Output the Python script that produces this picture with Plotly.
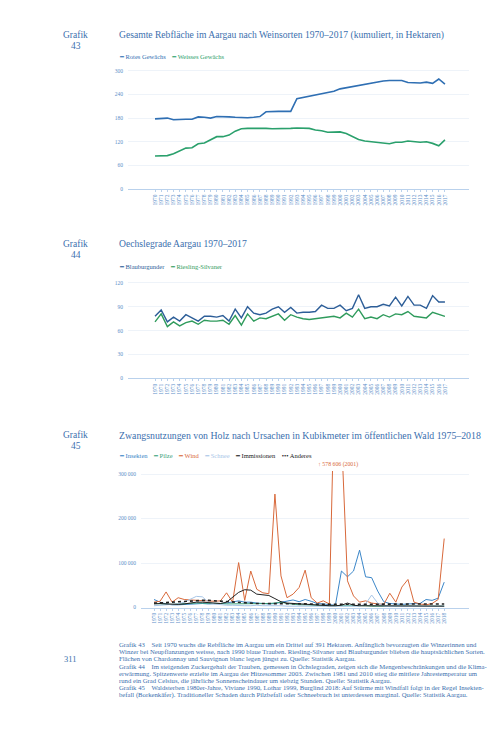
import plotly.graph_objects as go

# ---------------- data ----------------
years_43 = [str(y) for y in range(1970, 2018)]
rotes = [178, 179, 180, 176, 177, 177, 177, 183, 182, 180, 184, 184, 183, 182, 181, 181,
         182, 184, 196, 197, 197, 197, 197, 229, 232, 236, 239, 241, 244, 248, 254, 257,
         260, 262, 266, 268, 271, 274, 275, 275, 275, 270, 269, 269, 271, 268, 279, 266]
weisses = [84, 84, 85, 90, 97, 104, 105, 115, 117, 124, 133, 133, 137, 147, 153, 154,
           154, 155, 154, 153, 153, 153, 154, 155, 154, 154, 150, 148, 144, 145, 145, 141,
           133, 126, 122, 120, 119, 116, 115, 119, 119, 122, 121, 119, 120, 116, 110, 125]

years_44 = [str(y) for y in range(1970, 2018)]
blauburgunder = [78, 86, 71, 77, 72, 80, 76, 72, 78, 78, 77, 79, 72, 87, 76, 90,
                 82, 80, 82, 87, 90, 83, 89, 82, 83, 83, 84, 92, 88, 88, 92, 85,
                 88, 105, 88, 90, 90, 93, 91, 102, 91, 103, 92, 92, 88, 104, 96, 96]
riesling = [71, 81, 65, 71, 66, 70, 72, 68, 73, 72, 72, 73, 68, 79, 67, 81,
            72, 76, 75, 78, 81, 73, 80, 77, 75, 74, 75, 76, 77, 78, 76, 82,
            77, 87, 75, 77, 75, 80, 77, 81, 80, 84, 78, 77, 76, 83, 80, 78]

years_45 = [str(y) for y in range(1970, 2019)]
insekten = [18000, 12000, 8000, 6000, 6000, 7000, 8000, 9000, 9000, 8000, 8000, 9000, 10000, 12000, 15000, 12000,
            12000, 10000, 9000, 8000, 9000, 12000, 15000, 17000, 13000, 18000, 14000, 9000, 8000, 7000, 5000, 82000,
            69000, 82000, 129000, 69000, 67000, 37000, 13000, 9000, 8000, 7000, 8000, 8000, 9000, 18000, 16000, 21000,
            57000]
pilze = [9000, 8000, 7000, 7000, 8000, 8000, 9000, 10000, 10000, 9000, 9000, 9000, 8000, 8000, 9000, 9000,
         8000, 8000, 8000, 9000, 10000, 12000, 9000, 7000, 6000, 6000, 5000, 5000, 4000, 4000, 4000, 4000,
         5000, 4000, 4000, 4000, 3000, 3000, 3000, 3000, 3000, 3000, 3000, 3000, 3000, 3000, 3000, 3000,
         3000]
wind = [12000, 14000, 35000, 12000, 22000, 18000, 17000, 16000, 16000, 15000, 14000, 15000, 33000, 12000, 101000, 16000,
        82000, 41000, 33000, 31000, 255000, 71000, 22000, 30000, 45000, 84000, 22000, 10000, 15000, 8000, 578606, 390000,
        60000, 26000, 12000, 15000, 10000, 8000, 7000, 32000, 12000, 46000, 63000, 12000, 8000, 6000, 9000, 18000,
        155000]
schnee = [4000, 5000, 5000, 6000, 8000, 12000, 18000, 25000, 24000, 12000, 8000, 6000, 5000, 5000, 4000, 4000,
          4000, 5000, 4000, 4000, 5000, 4000, 3000, 3000, 3000, 3000, 3000, 2000, 2000, 2000, 2000, 3000,
          2000, 2000, 3000, 8000, 28000, 10000, 3000, 2000, 3000, 2000, 2000, 2000, 2000, 2000, 2000, 2000,
          3000]
immissionen = [8000, 9000, 8000, 7000, 7000, 8000, 10000, 12000, 12000, 11000, 10000, 9000, 12000, 22000, 34000, 40000,
               39000, 30000, 29000, 27000, 20000, 13000, 10000, 9000, 8000, 7000, 6000, 5000, 5000, 4000, 4000, 5000,
               10000, 5000, 4000, 4000, 4000, 3000, 3000, 3000, 3000, 3000, 3000, 3000, 3000, 3000, 3000, 3000,
               3000]
anderes = [10000, 10000, 11000, 12000, 13000, 14000, 15000, 16000, 16000, 16000, 15000, 15000, 14000, 12000, 11000, 10000,
           10000, 9000, 9000, 9000, 8000, 8000, 8000, 8000, 8000, 8000, 8000, 7000, 7000, 7000, 7000, 7000,
           7000, 7000, 7000, 7000, 7000, 7000, 7000, 7000, 7000, 7000, 7000, 7000, 7000, 7000, 7000, 7000,
           8000]

names_43 = ["Rotes Gewächs", "Weisses Gewächs"]
names_44 = ["Blauburgunder", "Riesling-Silvaner"]
names_45 = ["Insekten", "Pilze", "Wind", "Schnee", "Immissionen", "Anderes"]

# ---------------- styles ----------------
W, H = 504, 733
SERIF = "Liberation Serif, DejaVu Serif, serif"
TXT = "#3b6fae"
TICK = "#5d90c9"
AXIS = "#b9d1ec"
GRID = "#eef3f9"
c43 = ["#2f6fb3", "#2aa06c"]
c44 = ["#2d5e98", "#2f9b5c"]
c45 = ["#3b86c8", "#3aa27c", "#d8693b", "#a8c6e7", "#222222", "#222222"]
dash45 = ["solid", "solid", "solid", "solid", "solid", "dot"]


def px(x):
    return x / W


def py(y):
    return 1 - y / H


fig = go.Figure()

# chart 43
for name, vals, col in zip(names_43, [rotes, weisses], c43):
    fig.add_trace(go.Scatter(x=years_43, y=vals, name=name, mode="lines",
                             line=dict(color=col, width=1.6), xaxis="x", yaxis="y",
                             showlegend=False))
# chart 44
for name, vals, col in zip(names_44, [blauburgunder, riesling], c44):
    fig.add_trace(go.Scatter(x=years_44, y=vals, name=name, mode="lines",
                             line=dict(color=col, width=1.4), xaxis="x2", yaxis="y2",
                             showlegend=False))
# chart 45
for name, vals, col, d in zip(names_45, [insekten, pilze, wind, schnee, immissionen, anderes], c45, dash45):
    fig.add_trace(go.Scatter(x=years_45, y=vals, name=name, mode="lines",
                             line=dict(color=col, width=1.0 if d == "solid" else 1.6, dash=d),
                             xaxis="x3", yaxis="y3", showlegend=False))

xcommon = dict(type="category", showgrid=False, showline=True, linecolor=AXIS, linewidth=1,
               ticks="outside", ticklen=2, tickcolor=AXIS, tickangle=-90, dtick=1,
               tickfont=dict(family=SERIF, size=5.5, color=TICK), zeroline=False,
               fixedrange=True)
ycommon = dict(showgrid=True, gridcolor=GRID, gridwidth=1, showline=False, zeroline=False,
               ticks="", tickfont=dict(family=SERIF, size=5.5, color=TICK), ticklabelstandoff=4,
               fixedrange=True)

fig.update_layout(
    width=W, height=H, margin=dict(l=0, r=0, t=0, b=0),
    paper_bgcolor="white", plot_bgcolor="white", showlegend=False,
    separators=". ",
    xaxis=dict(xcommon, domain=[px(128), px(469)], range=[-4.38, 50.9], anchor="y"),
    yaxis=dict(ycommon, domain=[py(190), py(67)], range=[0, 310], tickvals=[0, 60, 120, 180, 240, 300], anchor="x"),
    xaxis2=dict(xcommon, domain=[px(128), px(469)], range=[-4.38, 50.9], anchor="y2"),
    yaxis2=dict(ycommon, domain=[py(380), py(280)], range=[0, 125], tickvals=[0, 30, 60, 90, 120], anchor="x2"),
    xaxis3=dict(xcommon, domain=[px(141), px(469)], range=[-2.15, 52.1], anchor="y3"),
    yaxis3=dict(ycommon, domain=[py(610), py(473)], range=[0, 306700],
                tickvals=[0, 100000, 200000, 300000], tickformat=",d", anchor="x3"),
)

ann = []


def text(x, y, s, size, color=TXT, xanchor="left"):
    ann.append(dict(x=px(x), y=py(y), xref="paper", yref="paper", text=s, showarrow=False,
                    xanchor=xanchor, yanchor="middle", align=xanchor,
                    font=dict(family=SERIF, size=size, color=color)))


# Grafik labels
for num, y0 in [("43", 35), ("44", 245), ("45", 437)]:
    text(75, y0, "Grafik", 9.5, xanchor="center")
    text(76, y0 + 11, num, 9.5, xanchor="center")

# titles
text(117, 35, "Gesamte Rebfläche im Aargau nach Weinsorten 1970–2017 (kumuliert, in Hektaren)", 9.6)
text(117, 245, "Oechslegrade Aargau 1970–2017", 9.6)
text(117, 437, "Zwangsnutzungen von Holz nach Ursachen in Kubikmeter im öffentlichen Wald 1975–2018", 9.8)


def legend(x, y, names, colors, dashes=None):
    parts = []
    for i, (n, c) in enumerate(zip(names, colors)):
        sym = "━"
        if dashes is not None and dashes[i] == "dot":
            sym = "•••"
        parts.append(f"<span style='color:{c}'>{sym} {n}</span>")
    text(x, y, "    ".join(parts), 6.5)


legend(117, 57, names_43, c43)
legend(117, 268, names_44, c44)
legend(117, 457, names_45, c45, dash45)

# clipped peak note
text(338, 466, f"↑ {max(wind):,}".replace(",", " ") + " (2001)", 5.8, color=c45[2], xanchor="center")

# captions
captions = [
    "Grafik 43    Seit 1970 wuchs die Rebfläche im Aargau um ein Drittel auf 391 Hektaren. Anfänglich bevorzugten die Winzerinnen und",
    "Winzer bei Neupflanzungen weisse, nach 1990 blaue Trauben. Riesling-Silvaner und Blauburgunder blieben die hauptsächlichen Sorten.",
    "Flächen von Chardonnay und Sauvignon blanc legen jüngst zu. Quelle: Statistik Aargau.",
    "Grafik 44    Im steigenden Zuckergehalt der Trauben, gemessen in Öchslegraden, zeigen sich die Mengenbeschränkungen und die Klima-",
    "erwärmung. Spitzenwerte erzielte im Aargau der Hitzesommer 2003. Zwischen 1981 und 2010 stieg die mittlere Jahrestemperatur um",
    "rund ein Grad Celsius, die jährliche Sonnenscheindauer um siebzig Stunden. Quelle: Statistik Aargau.",
    "Grafik 45    Waldsterben 1980er-Jahre, Viviane 1990, Lothar 1999, Burglind 2018: Auf Stürme mit Windfall folgt in der Regel Insekten-",
    "befall (Borkenkäfer). Traditioneller Schaden durch Pilzbefall oder Schneebruch ist unterdessen marginal. Quelle: Statistik Aargau.",
]
for i, line in enumerate(captions):
    text(117, 647 + i * 7.25, line, 6.7)

text(62, 662, "311", 8.5)

fig.update_layout(annotations=ann)

fig.write_html("out.html", config={"displayModeBar": False},
               post_script="document.body.style.margin='0';document.body.style.overflow='hidden';")
